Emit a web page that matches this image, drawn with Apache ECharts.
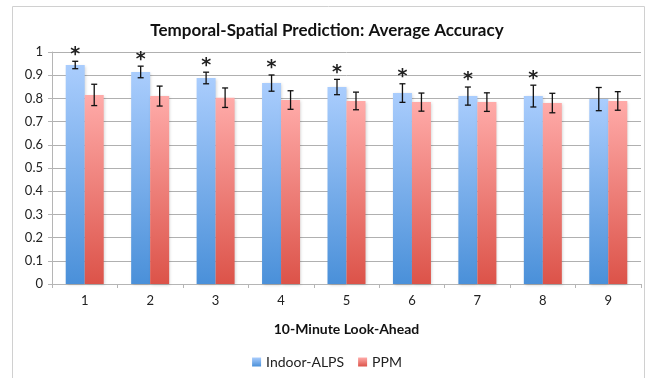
<!DOCTYPE html>
<html>
<head>
<meta charset="utf-8">
<script src="https://cdn.jsdelivr.net/npm/echarts@6/dist/echarts.min.js"></script>
<style>
  html, body { margin: 0; padding: 0; background: #fff; }
  #chart { width: 654px; height: 378px; }
</style>
</head>
<body>
<div id="chart"></div>
<script>
// 10-minute look-ahead steps
const categories = ['1', '2', '3', '4', '5', '6', '7', '8', '9']
const yTicks = [0, 0.1, 0.2, 0.3, 0.4, 0.5, 0.6, 0.7, 0.8, 0.9, 1]

const alpsAcc = [0.944, 0.914, 0.888, 0.866, 0.849, 0.823, 0.810, 0.810, 0.797]
const alpsErr = [0.016, 0.025, 0.025, 0.035, 0.033, 0.040, 0.039, 0.047, 0.050]
const ppmAcc = [0.815, 0.810, 0.803, 0.793, 0.789, 0.784, 0.784, 0.780, 0.789]
const ppmErr = [0.046, 0.043, 0.042, 0.040, 0.038, 0.039, 0.040, 0.042, 0.040]
// significance marker (*) above Indoor-ALPS
const significant = [1, 1, 1, 1, 1, 1, 1, 1, 0]

const BAR_W = 19
const FONT = 'Lato'

let errData = []
categories.forEach((c, i) => {
  errData.push([i, alpsAcc[i], alpsErr[i], -1, significant[i]])
  errData.push([i, ppmAcc[i], ppmErr[i], 1, 0])
})

function renderErr (params, api) {
  let i = api.value(0)
  let v = api.value(1)
  let e = api.value(2)
  let side = api.value(3)
  let sig = api.value(4)
  let x = api.coord([i, v])[0] + side * BAR_W / 2
  let hi = api.coord([i, v + e])[1]
  let lo = api.coord([i, v - e])[1]
  let style = { stroke: '#111', lineWidth: 1.3 }
  let children = [
    { type: 'line', shape: { x1: x, y1: hi, x2: x, y2: lo }, style: style },
    { type: 'line', shape: { x1: x - 3, y1: hi, x2: x + 3, y2: hi }, style: style },
    { type: 'line', shape: { x1: x - 3, y1: lo, x2: x + 3, y2: lo }, style: style }
  ]
  if (sig) {
    children.push({
      type: 'text',
      style: {
        text: '*',
        x: x,
        y: hi + 3,
        align: 'center',
        verticalAlign: 'bottom',
        font: 'bold 19px "DejaVu Sans"',
        fill: '#222'
      }
    })
  }
  return { type: 'group', children: children }
}

let myChart = echarts.init(document.getElementById('chart'))

let option = {
  animation: false,
  textStyle: { fontFamily: FONT },
  title: {
    text: 'Temporal-Spatial Prediction: Average Accuracy',
    left: 'center',
    top: 17,
    textStyle: { fontFamily: FONT, fontSize: 17, fontWeight: 'bold', color: '#111' }
  },
  graphic: [
    {
      type: 'rect',
      shape: { x: 12.5, y: 6.5, width: 632, height: 400 },
      style: { fill: 'none', stroke: '#d0d0d0', lineWidth: 1 },
      silent: true,
      z: -1
    }
  ],
  legend: {
    data: ['Indoor-ALPS', 'PPM'],
    bottom: 4,
    left: 'center',
    icon: 'rect',
    itemWidth: 9,
    itemHeight: 9,
    itemGap: 14,
    textStyle: { fontFamily: FONT, fontSize: 14, color: '#222' }
  },
  grid: {
    left: 52,
    right: 13,
    top: 52,
    bottom: 94
  },
  xAxis: {
    type: 'category',
    data: categories,
    name: '10-Minute Look-Ahead',
    nameLocation: 'middle',
    nameGap: 38,
    nameTextStyle: { fontFamily: FONT, fontSize: 14, fontWeight: 'bold', color: '#111' },
    axisLine: { lineStyle: { color: '#b5b5b5' } },
    axisTick: { show: true, length: 4, lineStyle: { color: '#b5b5b5' } },
    axisLabel: { color: '#222', fontSize: 13, margin: 10 }
  },
  yAxis: {
    type: 'value',
    min: yTicks[0],
    max: yTicks[yTicks.length - 1],
    interval: 0.1,
    axisLine: { show: true, lineStyle: { color: '#b5b5b5' } },
    axisTick: { show: true, length: 4, lineStyle: { color: '#b5b5b5' } },
    axisLabel: {
      color: '#222',
      fontSize: 13,
      margin: 9,
      formatter: v => String(Math.round(v * 10) / 10)
    },
    splitLine: { show: true, lineStyle: { color: '#b0b0b0' } }
  },
  series: [
    {
      name: 'Indoor-ALPS',
      type: 'bar',
      data: alpsAcc,
      barWidth: BAR_W,
      barGap: '0%',
      itemStyle: {
        color: new echarts.graphic.LinearGradient(0, 0, 0, 1, [
          { offset: 0, color: '#aacdfd' },
          { offset: 1, color: '#4a90d9' }
        ]),
        shadowColor: 'rgba(0,0,0,0.18)',
        shadowBlur: 3,
        shadowOffsetX: 1,
        shadowOffsetY: 1
      }
    },
    {
      name: 'PPM',
      type: 'bar',
      data: ppmAcc,
      barWidth: BAR_W,
      barGap: '0%',
      itemStyle: {
        color: new echarts.graphic.LinearGradient(0, 0, 0, 1, [
          { offset: 0, color: '#ffaba9' },
          { offset: 1, color: '#dc5349' }
        ]),
        shadowColor: 'rgba(0,0,0,0.18)',
        shadowBlur: 3,
        shadowOffsetX: 1,
        shadowOffsetY: 1
      }
    },
    {
      name: 'err',
      type: 'custom',
      renderItem: renderErr,
      data: errData,
      encode: { x: 0, y: 1 },
      z: 5
    }
  ]
}
myChart.setOption(option, true)
</script>
</body>
</html>
